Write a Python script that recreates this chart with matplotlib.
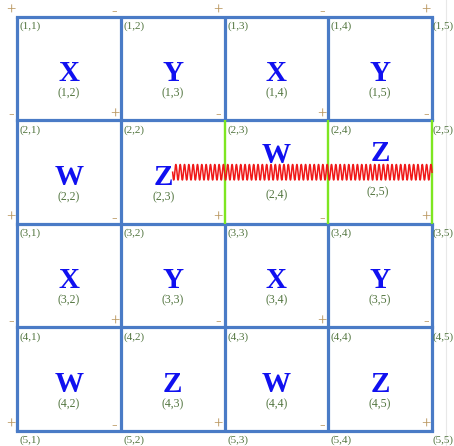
import numpy as np
import matplotlib
matplotlib.use('Agg')
import matplotlib.pyplot as plt

# grid nodes are numbered 1..5 in both directions
rows = [1, 2, 3, 4, 5]
cols = [1, 2, 3, 4, 5]

# big letter in each cell, and the small label under it
cell_letters = [['X', 'Y', 'X', 'Y'],
                ['W', 'Z', 'W', 'Z'],
                ['X', 'Y', 'X', 'Y'],
                ['W', 'Z', 'W', 'Z']]
cell_labels = [['(1,2)', '(1,3)', '(1,4)', '(1,5)'],
               ['(2,2)', '(2,3)', '(2,4)', '(2,5)'],
               ['(3,2)', '(3,3)', '(3,4)', '(3,5)'],
               ['(4,2)', '(4,3)', '(4,4)', '(4,5)']]

# vertical edges drawn green: (column, row from, row to)
green_edges = [(3, 2, 3), (4, 2, 3), (5, 2, 3)]

# the spring along row 2
spring_start = (2.5, 2.5)
spring_end = (5.0, 2.5)
spring_turns = 60
spring_amp = 0.075

blue = '#4a7bc6'
green = '#7ee621'
label_col = '#52753f'
sign_col = '#b8945a'
letter_col = '#1010f0'
serif = ['Liberation Serif', 'DejaVu Serif']

fig = plt.figure(figsize=(4.54, 4.46), dpi=100)
ax = fig.add_axes([0, 0, 1, 1])
ax.set_xlim(0.836, 5.212)
ax.set_ylim(5.145, 0.836)
ax.axis('off')

# faint line near the right edge
ax.plot([5.135, 5.135], [0.836, 5.145], color='#e8e8e8', lw=0.8)

# grid lines
for r in rows:
    ax.plot([cols[0], cols[-1]], [r, r], color=blue, lw=2.3, solid_capstyle='projecting', zorder=2)
green_set = {(c, a) for c, a, b in green_edges}
for c in cols:
    for r in rows[:-1]:
        is_green = (c, r) in green_set
        ax.plot([c, c], [r, r + 1], color=green if is_green else blue,
                lw=1.7 if is_green else 2.3, solid_capstyle='butt', zorder=3 if is_green else 2)

# spring
t = np.linspace(0, 1, 3000)
sx = spring_start[0] + (spring_end[0] - spring_start[0]) * t
sy = spring_start[1] + spring_amp * np.sin(2 * np.pi * spring_turns * t)
ax.plot(sx, sy, color='#f01818', lw=1.1, zorder=4)

# node labels and signs
for r in rows:
    for c in cols:
        off = 0.0 if c == cols[-1] else 0.025
        ax.text(c + off, r + 0.045, '(%d,%d)' % (r, c), color=label_col, fontsize=8,
                family=serif, ha='left', va='top', zorder=5)
        sign = '+' if (r + c) % 2 == 0 else '-'
        ax.text(c - 0.06, r - 0.06, sign, color=sign_col, fontsize=12,
                family=serif, ha='center', va='center', zorder=5)

# cell letters
letter_shift = {(2, 2): (-0.09, 0.0), (2, 3): (0.0, -0.21), (2, 4): (0.0, -0.23)}
label_shift = {(2, 2): (-0.09, 0.0), (2, 3): (0.0, -0.02), (2, 4): (-0.02, -0.05)}
for i, r in enumerate(rows[:-1]):
    for j, c in enumerate(cols[:-1]):
        cx, cy = c + 0.5, r + 0.5
        dx, dy = letter_shift.get((r, c), (0, 0))
        ax.text(cx + dx, cy + 0.12 + dy, cell_letters[i][j], color=letter_col, fontsize=21,
                fontweight='bold', family=serif, ha='center', va='baseline', zorder=6)
        lx, ly = label_shift.get((r, c), (0, 0))
        ax.text(cx + lx, cy + 0.27 + ly, cell_labels[i][j], color=label_col, fontsize=8.5,
                family=serif, ha='center', va='baseline', zorder=6)

plt.savefig('out.png', dpi=100)
